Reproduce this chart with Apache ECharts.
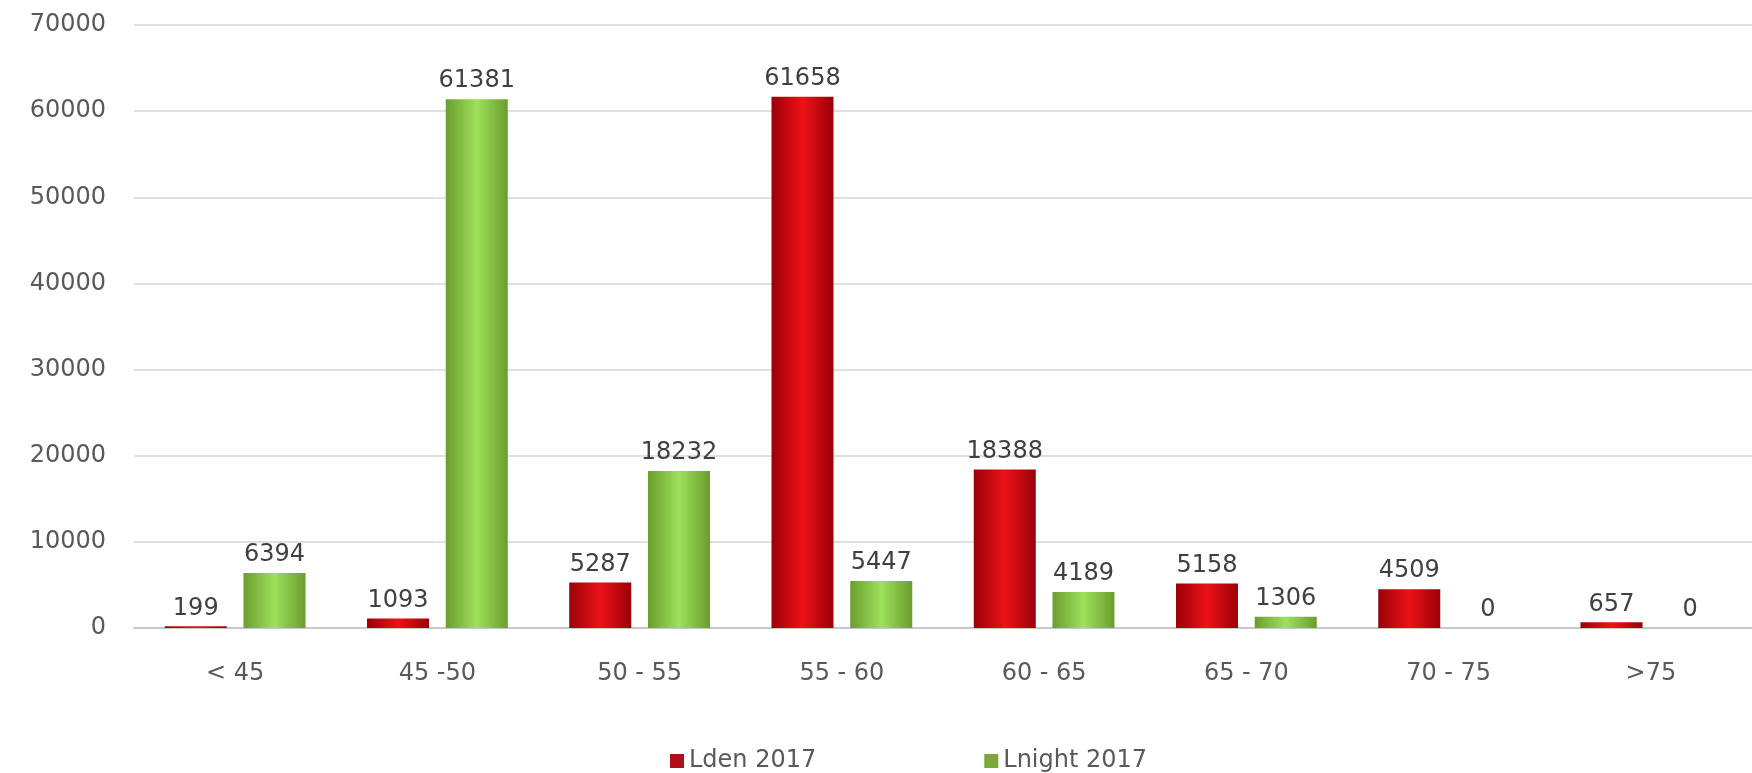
<!DOCTYPE html>
<html>
<head>
<meta charset="utf-8">
<script src="https://cdn.jsdelivr.net/npm/echarts@6/dist/echarts.min.js"></script>
<style>
  html, body { margin: 0; padding: 0; background: #ffffff; }
  #chart { width: 1752px; height: 773px; }
</style>
</head>
<body>
<div id="chart"></div>
<script>
// Noise exposure bands (dB) and number of people exposed
const categories = ['< 45', '45 -50', '50 - 55', '55 - 60', '60 - 65', '65 - 70', '70 - 75', '>75'];
const ldenValues = [199, 1093, 5287, 61658, 18388, 5158, 4509, 657];
const lnightValues = [6394, 61381, 18232, 5447, 4189, 1306, 0, 0];
const yTicks = { min: 0, max: 70000, interval: 10000 };

const FONT = 'DejaVu Sans';
const FONT_SIZE = 24;

function cylinder(edge, mid) {
  return new echarts.graphic.LinearGradient(0, 0, 1, 0, [
    { offset: 0, color: edge },
    { offset: 0.5, color: mid },
    { offset: 1, color: edge }
  ]);
}

const labelStyle = {
  show: true,
  position: 'top',
  distance: 6,
  color: '#404040',
  fontFamily: FONT,
  fontSize: FONT_SIZE
};

const chart = echarts.init(document.getElementById('chart'));
chart.setOption({
  backgroundColor: '#ffffff',
  animation: false,
  grid: { left: 134, right: -10, top: 25, bottom: 145, containLabel: false },
  legend: {
    left: 665,
    top: 744,
    itemWidth: 14,
    itemHeight: 14,
    itemGap: 168,
    icon: 'rect',
    textStyle: { color: '#595959', fontFamily: FONT, fontSize: FONT_SIZE },
    data: [
      { name: 'Lden 2017', itemStyle: { color: '#b0101a' } },
      { name: 'Lnight 2017', itemStyle: { color: '#7aa83a' } }
    ]
  },
  xAxis: {
    type: 'category',
    data: categories,
    axisLine: { lineStyle: { color: '#c8c8c8', width: 2 } },
    axisTick: { show: false },
    axisLabel: { color: '#595959', fontFamily: FONT, fontSize: FONT_SIZE, margin: 34 }
  },
  yAxis: {
    type: 'value',
    min: yTicks.min,
    max: yTicks.max,
    interval: yTicks.interval,
    axisLine: { show: false },
    axisTick: { show: false },
    axisLabel: {
      color: '#595959', fontFamily: FONT, fontSize: FONT_SIZE, margin: 28,
      formatter: v => String(v)
    },
    splitLine: { lineStyle: { color: '#e0e0e0', width: 2 } }
  },
  series: [
    {
      name: 'Lden 2017',
      type: 'bar',
      data: ldenValues,
      barWidth: 62,
      barGap: '27%',
      itemStyle: { color: cylinder('#9a0008', '#ec1218') },
      label: labelStyle
    },
    {
      name: 'Lnight 2017',
      type: 'bar',
      data: lnightValues,
      barWidth: 62,
      itemStyle: { color: cylinder('#6a9e2c', '#9fe05c') },
      label: labelStyle
    }
  ]
});
</script>
</body>
</html>
